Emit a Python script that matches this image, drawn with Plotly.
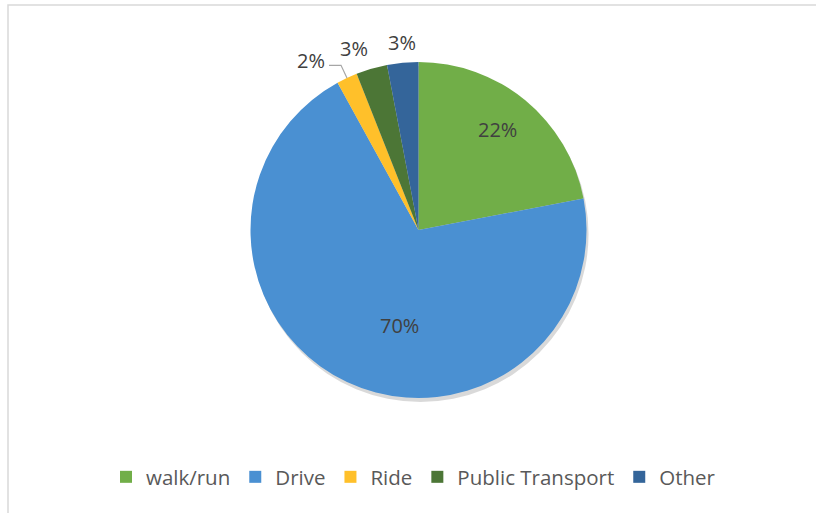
import math
import plotly.graph_objects as go

categories = ["walk/run", "Drive", "Ride", "Public Transport", "Other"]
values = [22, 70, 2, 3, 3]
colors = ["#71AE48", "#4A90D2", "#FFC02A", "#4C7636", "#34659A"]
# label style per slice: (kind, radial fraction, angular nudge in degrees)
label_style = [("in", 0.76, -1.3), ("in", 0.58, -13.9), ("lead", 0, 0), ("out", 0, 0), ("out", 0, 0)]

W, H = 816, 513
L, R, T, B = 40, 17, 62, 111
PW, PH = W - L - R, H - T - B
SX, SY = 2, 4  # shadow offset px
FONT = "Open Sans"

fig = go.Figure()

# soft shadow behind the pie
fig.add_trace(go.Pie(
    values=[1], marker=dict(colors=["rgba(0,0,0,0.15)"], line=dict(width=0)),
    textinfo="none", hoverinfo="skip", showlegend=False, sort=False,
    domain=dict(x=[SX / PW, 1], y=[0, 1 - SY / PH]),
))

fig.add_trace(go.Pie(
    labels=categories, values=values, sort=False, direction="clockwise", rotation=0,
    marker=dict(colors=colors, line=dict(width=0)),
    textinfo="none",
    domain=dict(x=[0, 1 - SX / PW], y=[SY / PH, 1]),
    hoverinfo="label+percent",
))

# geometry of the main pie in pixels (derived from the domain)
cx_px = L + (PW - SX) / 2
cy_px = T + (PH - SY) / 2
rad = min(PW - SX, PH - SY) / 2


def to_paper(px, py):
    return (px - L) / PW, 1 - (py - T) / PH


total = sum(values)
cum = 0
label_font = dict(family=FONT, size=20, color="#404040")
for v, (kind, frac, nudge) in zip(values, label_style):
    mid = (cum + v / 2) / total * 2 * math.pi
    cum += v
    txt = f"{round(100 * v / total)}%"
    ang = mid + math.radians(nudge)
    sx, sy = math.sin(ang), -math.cos(ang)
    if kind == "in":
        x, y = to_paper(cx_px + frac * rad * sx, cy_px + frac * rad * sy)
        fig.add_annotation(x=x, y=y, xref="paper", yref="paper", text=txt, showarrow=False,
                           font=label_font, xanchor="center", yanchor="middle")
    elif kind == "out":
        d = rad + 5
        px, py = cx_px + d * sx, cy_px + d * sy
        xa = "center" if abs(sx) < 0.17 else ("right" if sx < 0 else "left")
        x, y = to_paper(px, py)
        fig.add_annotation(x=x, y=y, xref="paper", yref="paper", text=txt, showarrow=False,
                           font=label_font, xanchor=xa, yanchor="bottom")
    else:
        p0 = (cx_px + rad * sx, cy_px + rad * sy)
        p1 = (cx_px + (rad + 14) * sx, cy_px + (rad + 14) * sy)
        p2 = (p1[0] - 12, p1[1])
        a0, a1, a2 = to_paper(*p0), to_paper(*p1), to_paper(*p2)
        fig.add_shape(type="path", xref="paper", yref="paper",
                      path=f"M{a0[0]},{a0[1]} L{a1[0]},{a1[1]} L{a2[0]},{a2[1]}",
                      line=dict(color="#A6A6A6", width=1.2))
        x, y = to_paper(p2[0] - 2, p2[1] - 5)
        fig.add_annotation(x=x, y=y, xref="paper", yref="paper", text=txt, showarrow=False,
                           font=label_font, xanchor="right", yanchor="middle")

bx0, by1 = to_paper(8, 5)
fig.add_shape(type="rect", xref="paper", yref="paper",
              x0=bx0, x1=1.2, y0=-0.6, y1=by1,
              line=dict(color="#D9D9D9", width=1.5), fillcolor="rgba(0,0,0,0)", layer="below")

lx, ly = to_paper(106, 477)
fig.update_layout(
    width=W, height=H,
    margin=dict(l=L, r=R, t=T, b=B, autoexpand=False),
    paper_bgcolor="white", plot_bgcolor="white",
    font=dict(family=FONT, size=20, color="#595959"),
    showlegend=True,
    legend=dict(orientation="h", x=lx, xanchor="left", y=ly, yanchor="middle",
                font=dict(family=FONT, size=20.5, color="#595959"), itemwidth=30, traceorder="normal"),
)

fig.write_html("out.html", config={"displayModeBar": False},
               post_script="document.body.style.margin='0';")
